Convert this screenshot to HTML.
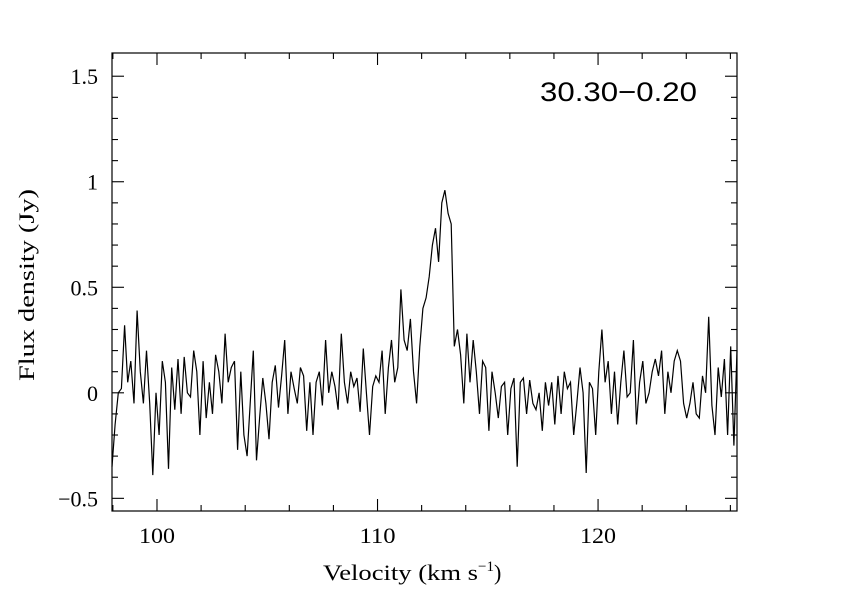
<!DOCTYPE html>
<html><head><meta charset="utf-8"><style>
html,body{margin:0;padding:0;background:#fff;}
svg{display:block;}
text{font-family:"Liberation Serif",serif;fill:#000;}
</style></head><body>
<svg id="chart" width="842" height="595">
<g id="axes"></g>
<path id="series" fill="none" stroke="#000" stroke-width="1.2"/>
<rect x="112" y="53" width="625" height="458" fill="none" stroke="#000" stroke-width="1.2"/>
<text x="540" y="101" font-size="27" textLength="157" lengthAdjust="spacingAndGlyphs" style="font-family:'Liberation Sans',sans-serif">30.30−0.20</text>
<text x="323" y="580" font-size="22"><tspan textLength="155" lengthAdjust="spacingAndGlyphs">Velocity (km s</tspan><tspan dy="-9" font-size="15">−1</tspan><tspan dy="9">)</tspan></text>
<text transform="translate(34,285) rotate(-90)" font-size="22" text-anchor="middle" textLength="192" lengthAdjust="spacingAndGlyphs">Flux density (Jy)</text>
</svg>
<script>
const vStart = 97.96, vEnd = 126.3;
const flux = [
-0.35,-0.15,0.0,0.02,0.32,0.05,0.15,-0.05,0.39,0.1,-0.05,0.2,-0.05,-0.39,0.0,
-0.2,0.15,0.05,-0.36,0.12,-0.08,0.16,-0.1,0.17,0.0,-0.02,0.2,0.1,-0.2,
0.15,-0.12,0.05,-0.1,0.18,0.1,-0.05,0.28,0.05,0.12,0.15,-0.27,0.1,-0.2,
-0.3,-0.05,0.2,-0.32,-0.12,0.07,-0.05,-0.22,0.05,0.13,-0.07,0.08,0.25,-0.1,
0.1,0.02,-0.05,0.12,0.08,-0.18,0.05,-0.2,0.05,0.1,-0.06,0.25,0.0,0.1,
0.03,-0.08,0.28,0.05,-0.05,0.1,0.03,0.07,-0.09,0.21,0.0,-0.2,0.03,0.08,
0.05,0.2,-0.1,0.12,0.25,0.05,0.12,
0.49,0.25,0.2,0.35,0.1,-0.05,0.22,
0.4,0.45,0.55,0.7,0.78,0.62,0.9,
0.96,0.85,0.8,0.22,0.3,0.18,-0.05,
0.28,0.05,0.25,0.1,-0.1,0.15,0.12,-0.18,0.1,0.0,-0.12,0.03,0.05,-0.2,
0.02,0.07,-0.35,0.05,0.07,-0.1,0.06,-0.05,-0.08,0.0,-0.18,0.05,-0.06,0.05,
-0.15,0.08,-0.1,0.1,0.02,0.05,-0.2,-0.05,0.12,0.0,-0.38,0.05,0.02,-0.2,
0.1,0.3,0.05,0.15,-0.1,0.1,-0.15,0.05,0.2,-0.02,0.0,0.25,-0.15,0.05,
0.15,-0.05,0.0,0.1,0.16,0.08,0.2,-0.1,0.1,0.0,0.15,0.2,0.15,-0.05,
-0.12,-0.05,0.05,-0.1,-0.12,0.08,0.0,0.36,-0.06,-0.2,0.12,-0.02,0.16,-0.2,0.22,-0.25,0.2
];
const xTicks = [100,110,120];
const xTickLabels = ["100","110","120"];
const yTicks = [-0.5,0,0.5,1,1.5];
const yTickLabels = ["−0.5","0","0.5","1","1.5"];

const X0=112,X1=737,Y0=511,Y1=53, xmin=97.96,xmax=126.3,ymin=-0.56,ymax=1.61;
const xs=v=>X0+(v-xmin)/(xmax-xmin)*(X1-X0);
const ys=f=>Y0-(f-ymin)/(ymax-ymin)*(Y0-Y1);
const NS="http://www.w3.org/2000/svg";
const ax=document.getElementById('axes');
function line(x1,y1,x2,y2){const l=document.createElementNS(NS,'line');l.setAttribute('x1',x1);l.setAttribute('y1',y1);l.setAttribute('x2',x2);l.setAttribute('y2',y2);l.setAttribute('stroke','#000');l.setAttribute('stroke-width','1.1');ax.appendChild(l);return l;}
for(let v=98;v<=126.001;v+=2){const x=xs(v);const maj=Math.abs(v%10)<0.01;const L=maj?12:6;
 const a=line(x,Y0,x,Y0-L);
 const b=line(x,Y1,x,Y1+L);}
for(let f=-0.5;f<=1.6;f+=0.1){const y=ys(f);const maj=Math.abs(Math.round(f*10)%5)===0;const L=maj?12:6;
 const a=line(X0,y,X0+L,y);
 const b=line(X1,y,X1-L,y);}
xTicks.forEach((v,i)=>{const t=document.createElementNS(NS,'text');t.setAttribute('x',xs(v));t.setAttribute('y',543);t.setAttribute('font-size','22');t.setAttribute('text-anchor','middle');t.setAttribute('textLength','36');t.setAttribute('lengthAdjust','spacingAndGlyphs');t.textContent=xTickLabels[i];
 
 
 ax.appendChild(t);});
yTicks.forEach((f,i)=>{const t=document.createElementNS(NS,'text');t.setAttribute('x',98);t.setAttribute('y',ys(f)+8);t.setAttribute('font-size','22');t.setAttribute('text-anchor','end');t.textContent=yTickLabels[i];
 
 
 ax.appendChild(t);});
const step=(vEnd-vStart)/(flux.length-1);
let d='';flux.forEach((f,i)=>{d+=(i?'L':'M')+xs(vStart+i*step).toFixed(1)+','+ys(f).toFixed(1);});
document.getElementById('series').setAttribute('d',d);
</script>
</body></html>
